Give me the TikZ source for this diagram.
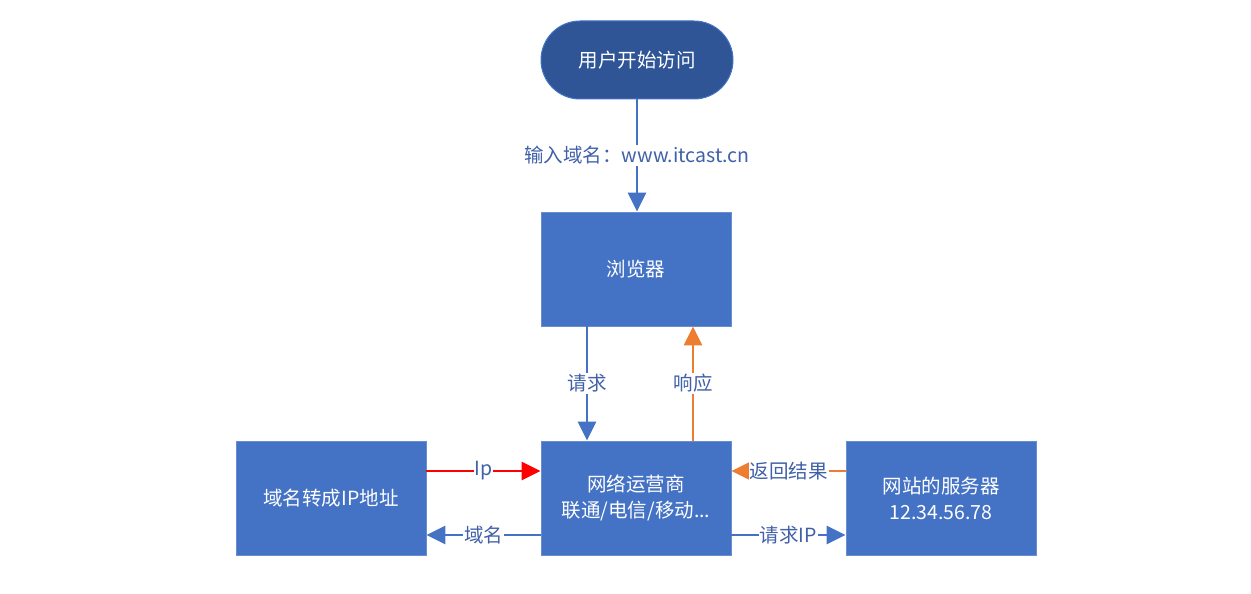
\documentclass[tikz,border=0pt]{standalone}
\usepackage{fontspec}
\setmainfont{Noto Sans CJK SC}
\usetikzlibrary{arrows.meta,shapes.misc}
\definecolor{boxblue}{RGB}{68,114,196}
\definecolor{darkblue}{RGB}{47,85,151}
\definecolor{linkblue}{RGB}{68,114,196}
\definecolor{labblue}{RGB}{64,96,168}
\definecolor{orng}{RGB}{237,125,49}
\tikzset{
  x=1pt,y=-1pt,
  box/.style={fill=boxblue,draw=boxblue!80!white,line width=0.8pt,minimum width=190pt,minimum height=114pt,text=white,font=\fontsize{19.5}{26}\selectfont,align=center,inner sep=0pt},
  startnode/.style={rounded rectangle,fill=darkblue,draw=boxblue,line width=1pt,minimum width=192pt,minimum height=78pt,text=white,font=\fontsize{19.5}{24}\selectfont,inner sep=0pt},
  conn/.style={line width=2.8pt,-{Triangle[width=18pt,length=19pt]}},
  lab/.style={fill=white,text=labblue,font=\fontsize{19.5}{22}\selectfont,inner sep=1.5pt}
}
\begin{document}
\begin{tikzpicture}
\useasboundingbox (0,0) rectangle (1251,594);
\fill[white] (0,0) rectangle (1251,594);
\node[startnode] (start) at (637,60) {用户开始访问};
\node[box] (browser) at (636,269) {浏览器};
\node[box] (isp) at (636,498) {网络运营商\\联通/电信/移动...};
\node[box] (dns) at (331,498) {域名转成IP地址};
\node[box] (server) at (941,498) {网站的服务器\\12.34.56.78};
% start -> browser
\draw[conn,linkblue] (start.south) -- node[lab,pos=0.5]{输入域名：www.itcast.cn} (start.south |- browser.north);
% request / response
\coordinate (bq) at ([xshift=-49pt]browser.south);
\coordinate (iq) at ([xshift=-49pt]isp.north);
\coordinate (br) at ([xshift=57pt]browser.south);
\coordinate (ir) at ([xshift=57pt]isp.north);
\draw[conn,linkblue] (bq) -- node[lab]{请求} (iq);
\draw[conn,orng] (ir) -- node[lab]{响应} (br);
% dns links
\draw[conn,red] ([yshift=27pt]dns.east) -- node[lab,text=labblue,inner sep=1pt]{Ip} ([yshift=27pt]isp.west);
\draw[conn,linkblue] ([yshift=-37pt]isp.west) -- node[lab,inner sep=1pt]{域名} ([yshift=-37pt]dns.east);
% server links
\draw[conn,orng] ([yshift=27pt]server.west) -- node[lab,inner sep=1pt]{返回结果} ([yshift=27pt]isp.east);
\draw[conn,linkblue] ([yshift=-37pt]isp.east) -- node[lab,inner sep=1pt]{请求IP} ([yshift=-37pt]server.west);
\end{tikzpicture}
\end{document}
